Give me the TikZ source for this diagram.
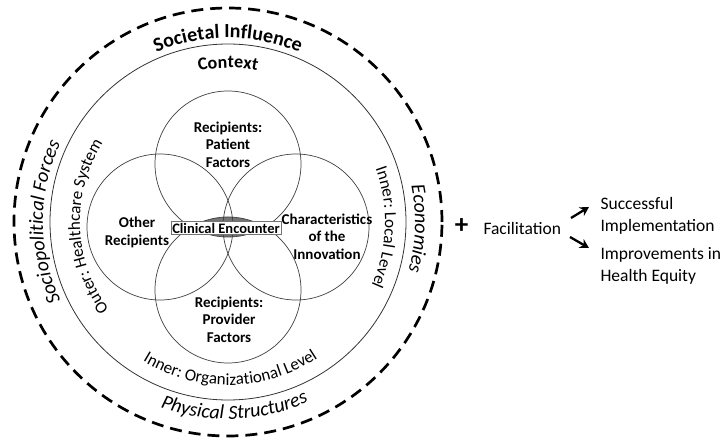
\documentclass[tikz,border=0pt]{standalone}
\usepackage{fontspec}
\setmainfont{Carlito}
\usetikzlibrary{decorations.text, arrows.meta}

\begin{document}
\begin{tikzpicture}[x=1pt, y=1pt,
    ring/.style={draw=black!80, line width=0.8pt},
    petal/.style={circle, draw=black!75, line width=0.7pt, minimum size=146pt, inner sep=0pt},
    petaltext/.style={font=\fontsize{15}{17.5}\selectfont\bfseries, align=center},
    sidetext/.style={font=\fontsize{17.5}{22}\selectfont, align=left, anchor=west},
    arctext/.style={decorate, decoration={text along path, text align=center, text={#1}}}]
    \useasboundingbox (0,0) rectangle (724,440);
    \coordinate (c) at (228,218);
    \coordinate (pt) at (228,276);
    \coordinate (pv) at (228,150);
    \coordinate (ot) at (160,213);
    \coordinate (ch) at (296,213);
    \draw [line width=2.7pt, dash pattern=on 12pt off 7pt] (c) circle (214);
    \draw [ring] (c) circle (178);
    \begin{scope}
        \clip (pt) circle (73);
        \fill [black!55] (pv) circle (73);
    \end{scope}
    \node [petal] (ptc) at (pt) {};
    \node [petal] (prv) at (pv) {};
    \node [petal] (oth) at (ot) {};
    \node [petal] (chr) at (ch) {};
    \node [petaltext] (ptclab) at (228,295.5) {Recipients:\\Patient\\Factors};
    \node [petaltext] (prvlab) at (229,120.5) {Recipients:\\Provider\\Factors};
    \node [petaltext] (othlab) at (137,207.5) {Other\\Recipients};
    \node [petaltext] (chrlab) at (327,203.3) {Characteristics\\of the\\Innovation};
    \node [draw=black!55, fill=white, inner sep=1.3pt, font=\fontsize{14.5}{14.5}\selectfont\bfseries] (enc) at (226,212) {Clinical Encounter};
    \path [arctext={|\fontsize{20}{20}\selectfont\bfseries|Societal Influence}] (c) ++(160:184) arc [start angle=160, end angle=20, radius=184];
    \path [arctext={|\fontsize{18}{18}\selectfont\bfseries|Context}] (c) ++(160:154) arc [start angle=160, end angle=20, radius=154];
    \path [arctext={|\fontsize{17}{17}\selectfont|Inner: Local Level}] (c) ++(68:157) arc [start angle=68, end angle=-72, radius=157];
    \path [arctext={|\fontsize{20}{20}\selectfont\itshape|Economies}] (c) ++(68:187) arc [start angle=68, end angle=-72, radius=187];
    \path [arctext={|\fontsize{17}{17}\selectfont|Outer: Healthcare System}] (c) ++(252:148) arc [start angle=252, end angle=112, radius=148];
    \path [arctext={|\fontsize{20}{20}\selectfont\itshape|Sociopolitical Forces}] (c) ++(250:185) arc [start angle=250, end angle=110, radius=185];
    \path [arctext={|\fontsize{17}{17}\selectfont|Inner: Organizational Level}] (c) ++(200:163) arc [start angle=200, end angle=342, radius=163];
    \path [arctext={|\fontsize{20}{20}\selectfont\itshape|Physical Structures}] (c) ++(202:197) arc [start angle=202, end angle=342, radius=197];
    \node [font=\fontsize{27}{27}\selectfont\bfseries] (plus) at (461.5,214) {+};
    \node [sidetext] (facil) at (480,212) {Facilitation};
    \node [sidetext] (succ) at (597,224) {Successful\\Implementation};
    \node [sidetext] (equity) at (597,174) {Improvements in\\Health Equity};
    \coordinate (up0) at (571,222);
    \coordinate (up1) at (589,233);
    \coordinate (dn0) at (570,203);
    \coordinate (dn1) at (589,192);
    \draw [-{Stealth[length=9pt, width=10pt]}, line width=2.3pt] (up0) -- (up1);
    \draw [-{Stealth[length=9pt, width=10pt]}, line width=2.3pt] (dn0) -- (dn1);
\end{tikzpicture}
\end{document}
